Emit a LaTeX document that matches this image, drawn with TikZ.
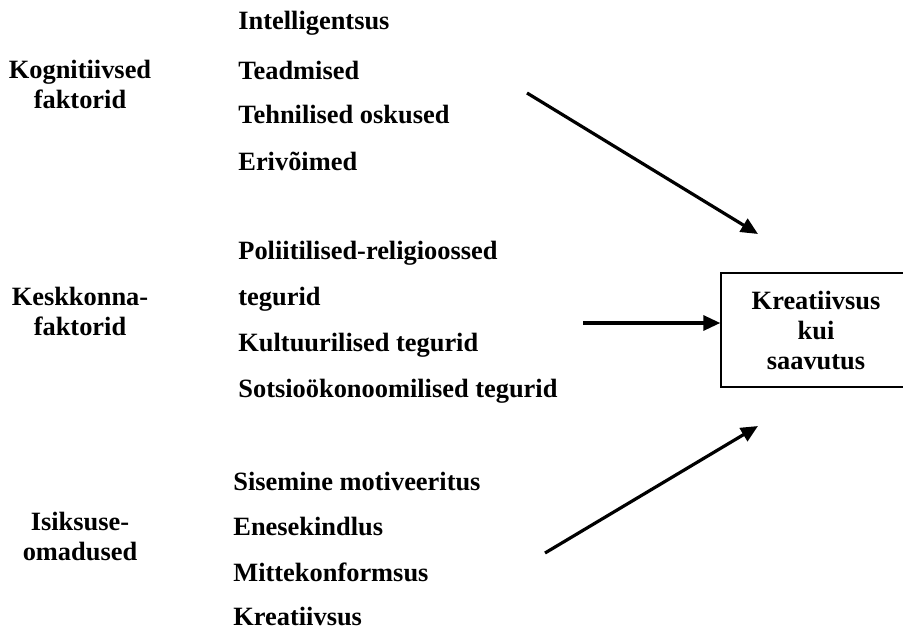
\documentclass[tikz,border=0pt]{standalone}
\usepackage{fontspec}
\setmainfont{Liberation Serif}
\usetikzlibrary{arrows.meta}
\tikzstyle{factor} = [align=center, inner sep=0pt, font=\bfseries\fontsize{13.2}{15}\selectfont]
\tikzstyle{item} = [anchor=west, inner sep=0pt, font=\bfseries\fontsize{13.2}{15}\selectfont]
\tikzstyle{result} = [draw, line width=0.7pt, minimum width=95pt, minimum height=57pt, align=center, font=\bfseries\fontsize{13.2}{15}\selectfont]
\tikzstyle{infl} = [line width=1.6pt,-{Triangle[length=8.5pt,width=7.5pt]}]

\begin{document}
\begin{tikzpicture}[x=0.5pt,y=-0.5pt]
    \useasboundingbox (0,0) rectangle (903,631);

    % tegurid
    \node (kog) [factor] at (80,84) {Kognitiivsed\\faktorid};
    \node (kesk) [factor] at (80,311) {Keskkonna-\\faktorid};
    \node (isik) [factor] at (80,536) {Isiksuse-\\omadused};

    \node (i1) [item] at (238,23) {Intelligentsus};
    \node (i2) [item] at (238,70) {Teadmised};
    \node (i3) [item] at (238,115) {Tehnilised oskused};
    \node (i4) [item] at (238,161) {Erivõimed};

    \node (k1) [item] at (238,253) {Poliitilised-religioossed};
    \node (k2) [item] at (238,299) {tegurid};
    \node (k3) [item] at (238,345) {Kultuurilised tegurid};
    \node (k4) [item] at (238,391) {Sotsioökonoomilised tegurid};

    \node (s1) [item] at (233,481) {Sisemine motiveeritus};
    \node (s2) [item] at (233,526) {Enesekindlus};
    \node (s3) [item] at (233,572) {Mittekonformsus};
    \node (s4) [item] at (233,616) {Kreatiivsus};

    \node (box) [result] at (816,330) {Kreatiivsus\\kui\\saavutus};

    \coordinate (a1) at (527,93);
    \coordinate (b1) at (758,234);
    \coordinate (a2) at (583,323);
    \coordinate (a3) at (545,553);
    \coordinate (b3) at (758,426);

    \draw [infl] (a1) -- (b1);
    \draw [infl] (a2) -- (box.west |- a2);
    \draw [infl] (a3) -- (b3);
\end{tikzpicture}
\end{document}
